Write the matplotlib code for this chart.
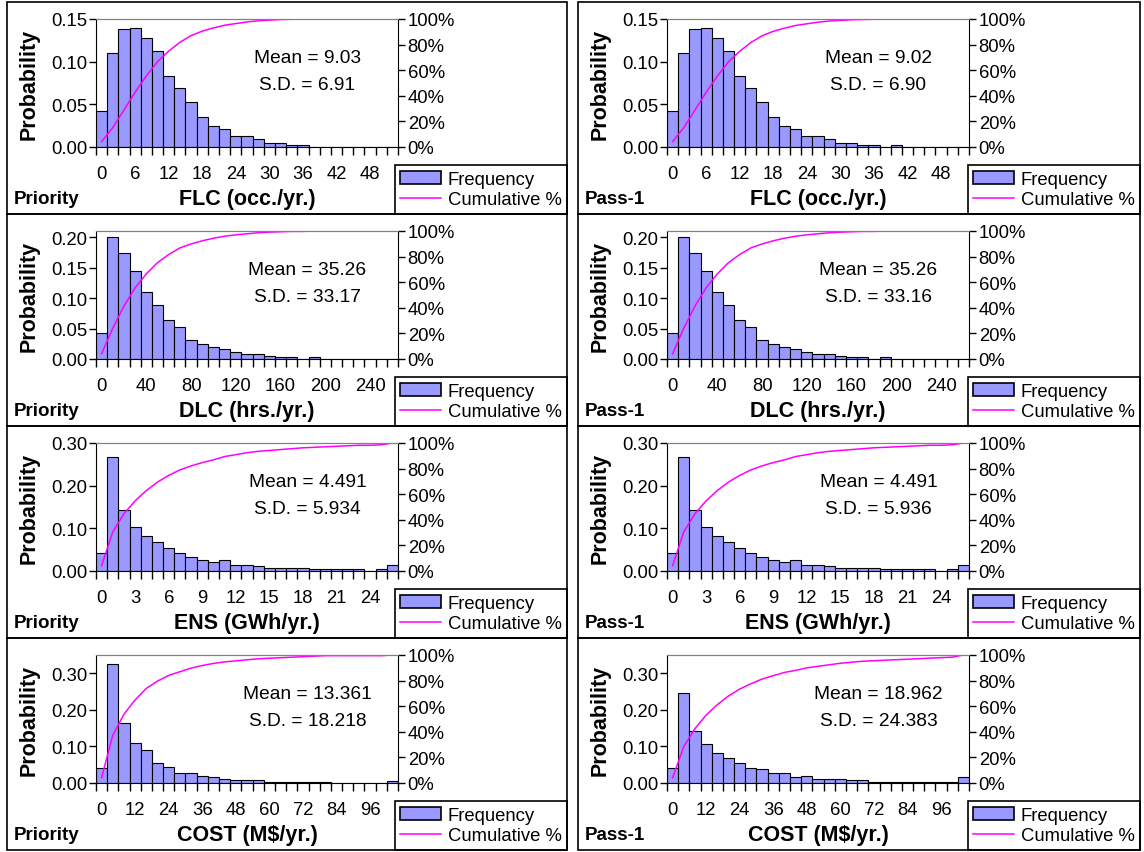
import numpy as np
import matplotlib
matplotlib.use("Agg")
import matplotlib.pyplot as plt
from matplotlib.patches import Rectangle, Patch
from matplotlib.lines import Line2D

plt.rcParams['font.family'] = ['Liberation Sans', 'DejaVu Sans']

# ---------------- data ----------------
flc_ticklabels = ['0', '6', '12', '18', '24', '30', '36', '42', '48']
dlc_ticklabels = ['0', '40', '80', '120', '160', '200', '240']
ens_ticklabels = ['0', '3', '6', '9', '12', '15', '18', '21', '24']
cost_ticklabels = ['0', '12', '24', '36', '48', '60', '72', '84', '96']

flc_priority = [0.042, 0.110, 0.138, 0.140, 0.128, 0.112, 0.083, 0.069, 0.053,
                0.035, 0.025, 0.021, 0.013, 0.013, 0.009, 0.005, 0.005, 0.002,
                0.002, 0.0, 0.0, 0.0, 0.0, 0.0, 0.0, 0.0, 0.0]
flc_pass1 = [0.042, 0.110, 0.138, 0.140, 0.128, 0.112, 0.083, 0.069, 0.053,
             0.035, 0.025, 0.021, 0.013, 0.013, 0.009, 0.005, 0.005, 0.002,
             0.002, 0.0, 0.002, 0.0, 0.0, 0.0, 0.0, 0.0, 0.0]
dlc_priority = [0.042, 0.200, 0.174, 0.144, 0.110, 0.088, 0.064, 0.052, 0.031,
                0.025, 0.020, 0.016, 0.011, 0.008, 0.008, 0.005, 0.003, 0.003,
                0.0, 0.003, 0.0, 0.0, 0.0, 0.0, 0.0, 0.0, 0.0]
dlc_pass1 = [0.042, 0.200, 0.174, 0.144, 0.110, 0.088, 0.064, 0.052, 0.031,
             0.025, 0.020, 0.016, 0.011, 0.008, 0.008, 0.005, 0.003, 0.003,
             0.0, 0.003, 0.0, 0.0, 0.0, 0.0, 0.0, 0.0, 0.0]
ens_priority = [0.042, 0.267, 0.144, 0.102, 0.081, 0.067, 0.053, 0.043, 0.032,
                0.026, 0.022, 0.026, 0.015, 0.015, 0.011, 0.007, 0.007, 0.007,
                0.007, 0.004, 0.004, 0.004, 0.004, 0.004, 0.0, 0.004, 0.014]
ens_pass1 = [0.042, 0.267, 0.144, 0.102, 0.081, 0.067, 0.053, 0.043, 0.032,
             0.026, 0.022, 0.026, 0.015, 0.015, 0.011, 0.007, 0.007, 0.007,
             0.007, 0.004, 0.004, 0.004, 0.004, 0.004, 0.0, 0.004, 0.014]
cost_priority = [0.041, 0.326, 0.163, 0.110, 0.089, 0.056, 0.044, 0.028, 0.028,
                 0.020, 0.016, 0.012, 0.008, 0.008, 0.008, 0.004, 0.004, 0.004,
                 0.004, 0.004, 0.004, 0.0, 0.0, 0.0, 0.0, 0.0, 0.005]
cost_pass1 = [0.041, 0.245, 0.142, 0.106, 0.082, 0.069, 0.054, 0.042, 0.037,
              0.026, 0.026, 0.016, 0.020, 0.012, 0.012, 0.012, 0.008, 0.008,
              0.004, 0.004, 0.004, 0.004, 0.004, 0.004, 0.004, 0.004, 0.017]

row_xlabels = ['FLC (occ./yr.)', 'DLC (hrs./yr.)', 'ENS (GWh/yr.)', 'COST (M$/yr.)']
row_ticklabels = [flc_ticklabels, dlc_ticklabels, ens_ticklabels, cost_ticklabels]
row_label_every = [3, 4, 3, 3]   # a label on every n-th category
row_ymax = [0.15, 0.21, 0.30, 0.35]
row_yticks = [[0, 0.05, 0.10, 0.15], [0, 0.05, 0.10, 0.15, 0.20],
              [0, 0.10, 0.20, 0.30], [0, 0.10, 0.20, 0.30]]
col_names = ['Priority', 'Pass-1']
series = [[flc_priority, flc_pass1], [dlc_priority, dlc_pass1],
          [ens_priority, ens_pass1], [cost_priority, cost_pass1]]
means = [['9.03', '9.02'], ['35.26', '35.26'], ['4.491', '4.491'], ['13.361', '18.962']]
sds = [['6.91', '6.90'], ['33.17', '33.16'], ['5.934', '5.936'], ['18.218', '24.383']]
cum_ticks = [0, 0.2, 0.4, 0.6, 0.8, 1.0]
cum_ticklabels = ['0%', '20%', '40%', '60%', '80%', '100%']

# ---------------- layout ----------------
W, H = 1144, 853
fig = plt.figure(figsize=(W / 100, H / 100), dpi=100)


def fx(x):
    return x / W


def fy(y):
    return 1 - y / H


col_x0 = [7, 578]
col_x1 = [567, 1140]
row_y0 = [3, 215, 427, 639]
row_h = 212

BAR = '#9999FF'
LINE = '#FF00FF'
FS = 13.3
FSB = 15.5

for r in range(4):
    for c in range(2):
        x0, x1 = col_x0[c], col_x1[c]
        y0 = row_y0[r]
        y1 = y0 + row_h
        # cell border
        fig.patches.append(Rectangle((fx(x0), fy(y1)), fx(x1) - fx(x0), fy(y0) - fy(y1),
                                     transform=fig.transFigure, fill=False,
                                     edgecolor='black', linewidth=1.2, zorder=0))
        pl, pr = x0 + 89, x0 + 391
        pt, pb = y0 + 17, y0 + 145
        ax = fig.add_axes([fx(pl), fy(pb), fx(pr) - fx(pl), fy(pt) - fy(pb)])
        freq = np.array(series[r][c], dtype=float)
        cats = np.arange(len(freq))
        ax.bar(cats, freq, width=1.0, color=BAR, edgecolor='black', linewidth=0.8,
               label='Frequency')
        ax.set_xlim(-0.5, len(freq) - 0.5)
        ax.set_ylim(0, row_ymax[r])
        ax.set_yticks(row_yticks[r])
        ax.set_yticklabels(['%.2f' % v for v in row_yticks[r]])
        labs = row_ticklabels[r]
        ax.set_xticks(np.arange(len(labs)) * row_label_every[r])
        ax.set_xticklabels(labs)
        ax.set_xticks(np.arange(len(freq) + 1) - 0.5, minor=True)
        ax.tick_params(axis='y', direction='out', length=5, width=1, pad=1,
                       labelsize=FS)
        ax.tick_params(axis='x', which='major', length=0, pad=13, labelsize=FS)
        ax.tick_params(axis='x', which='minor', length=6, width=1, direction='out')
        for s in ['left', 'bottom']:
            ax.spines[s].set_color('black')
        ax.spines['top'].set_color('#808080')
        ax.spines['right'].set_visible(False)

        ax2 = ax.twinx()
        cum = np.cumsum(freq) / np.sum(freq)
        ax2.plot(cats, cum, color=LINE, linewidth=1.1, label='Cumulative %')
        ax2.set_ylim(0, 1)
        ax2.set_yticks(cum_ticks)
        ax2.set_yticklabels(cum_ticklabels)
        ax2.tick_params(axis='y', direction='out', length=5, width=1, pad=2,
                        labelsize=FS)
        ax2.spines['top'].set_color('#808080')
        ax2.spines['left'].set_visible(False)
        ax2.spines['bottom'].set_visible(False)
        ax2.spines['right'].set_color('black')

        ax.text(0.70, 0.70, 'Mean = ' + means[r][c], transform=ax.transAxes,
                ha='center', va='center', fontsize=FS + 0.5)
        ax.text(0.70, 0.49, 'S.D. = ' + sds[r][c], transform=ax.transAxes,
                ha='center', va='center', fontsize=FS + 0.5)
        ax.text(-0.222, 0.5, 'Probability', rotation=90, transform=ax.transAxes,
                ha='center', va='center', fontsize=FSB, fontweight='bold')
        fig.text(fx((pl + pr) / 2), fy(y0 + 197), row_xlabels[r], ha='center',
                 va='center', fontsize=FSB, fontweight='bold')
        fig.text(fx(x0 + 7), fy(y0 + 197), col_names[c], ha='left', va='center',
                 fontsize=13.5, fontweight='bold')

        handles = [Patch(facecolor=BAR, edgecolor='black', linewidth=1.2),
                   Line2D([0], [0], color=LINE, linewidth=1.1)]
        leg = ax2.legend(handles, ['Frequency', 'Cumulative %'], loc='lower right',
                         bbox_to_anchor=(fx(x1), fy(y1)),
                         bbox_transform=fig.transFigure, frameon=True,
                         fancybox=False, edgecolor='black', borderpad=0.3,
                         handlelength=2.2, handletextpad=0.35, labelspacing=0.2,
                         borderaxespad=0, fontsize=FS, framealpha=1)
        leg.get_frame().set_linewidth(1.2)

fig.savefig('out.png', dpi=100)
